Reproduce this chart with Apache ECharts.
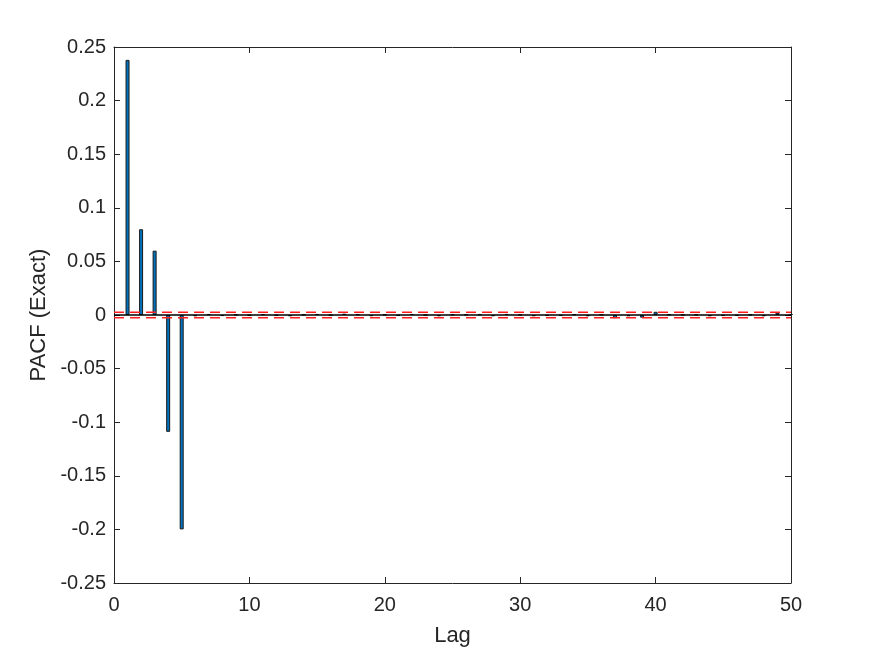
<!DOCTYPE html>
<html>
  <head>
    <meta charset="utf-8" />
    <title>PACF</title>
    <script src="https://cdn.jsdelivr.net/npm/echarts@6/dist/echarts.min.js"></script>
    <style>
      * { margin: 0; padding: 0; }
      html, body, #container { width: 875px; height: 656px; background: #fff; }
    </style>
  </head>
  <body>
    <div id="container"></div>
    <script>
      // lags 1..50 and partial autocorrelations
      const lags = Array.from({ length: 50 }, (_, i) => i + 1);
      const pacf = [
        0.238, 0.080, 0.060, -0.109, -0.200,
        -0.0012, 0.0008, -0.0010, 0.0004, -0.0003,
        0.0006, -0.0004, -0.0012, 0.0003, 0.0010,
        -0.0002, 0.0012, 0.0006, -0.0011, 0.0002,
        -0.0006, 0.0010, -0.0002, -0.0012, 0.0004,
        0.0004, 0.0006, -0.0012, 0.0010, 0.0003,
        -0.0012, -0.0006, -0.0006, 0.0006, -0.0012,
        0.0003, -0.0030, -0.0012, -0.0025, 0.0030,
        0.0005, 0.0003, 0.0004, -0.0012, -0.0006,
        -0.0006, 0.0004, -0.0012, 0.0022, 0.0010
      ];
      const bound = 0.0025;
      const xRange = [0, 50];
      const xTicks = [0, 50, 10];
      const yTicks = [-0.25, 0.25, 0.05];

      const chart = echarts.init(document.getElementById("container"));
      const txt = "#262626";
      const font = "Liberation Sans";
      const tick = { show: true, inside: true, length: 6, lineStyle: { color: txt } };
      const line = { show: true, onZero: false, lineStyle: { color: txt, width: 1 } };

      const hLine = (y, color, type) => ({
        type: "line",
        data: xRange.map((x) => [x, y]),
        symbol: "none",
        silent: true,
        lineStyle: { color: color, type: type, width: 1.5 },
        z: 5
      });

      chart.setOption({
        animation: false,
        grid: { left: 114, right: 84, top: 47, bottom: 73, show: false },
        xAxis: [
          {
            type: "value", min: xTicks[0], max: xTicks[1], interval: xTicks[2],
            position: "bottom", axisLine: line, axisTick: tick, splitLine: { show: false },
            axisLabel: { color: txt, fontSize: 20, margin: 12, fontFamily: font },
            name: "Lag", nameLocation: "middle", nameGap: 42,
            nameTextStyle: { color: txt, fontSize: 22, fontFamily: font }
          },
          {
            type: "value", min: xTicks[0], max: xTicks[1], interval: xTicks[2],
            position: "top", axisLine: line, axisTick: tick, splitLine: { show: false },
            axisLabel: { show: false }
          }
        ],
        yAxis: [
          {
            type: "value", min: yTicks[0], max: yTicks[1], interval: yTicks[2],
            position: "left", axisLine: line, axisTick: tick, splitLine: { show: false },
            axisLabel: {
              color: txt, fontSize: 20, margin: 8, fontFamily: font,
              formatter: (v) => String(Math.round(v * 100) / 100)
            },
            name: "PACF (Exact)", nameLocation: "middle", nameGap: 64, nameRotate: 90,
            nameTextStyle: { color: txt, fontSize: 22, fontFamily: font }
          },
          {
            type: "value", min: yTicks[0], max: yTicks[1], interval: yTicks[2],
            position: "right", axisLine: line, axisTick: tick, splitLine: { show: false },
            axisLabel: { show: false }
          }
        ],
        series: [
          {
            type: "bar",
            data: lags.map((l, i) => [l, pacf[i]]),
            barWidth: 4,
            itemStyle: { color: "#0072BD", borderColor: "#1a1a1a", borderWidth: 1 }
          },
          hLine(0, "#000", "solid"),
          hLine(bound, "#ff2020", [10, 6]),
          hLine(-bound, "#ff2020", [10, 6])
        ]
      });
    </script>
  </body>
</html>
